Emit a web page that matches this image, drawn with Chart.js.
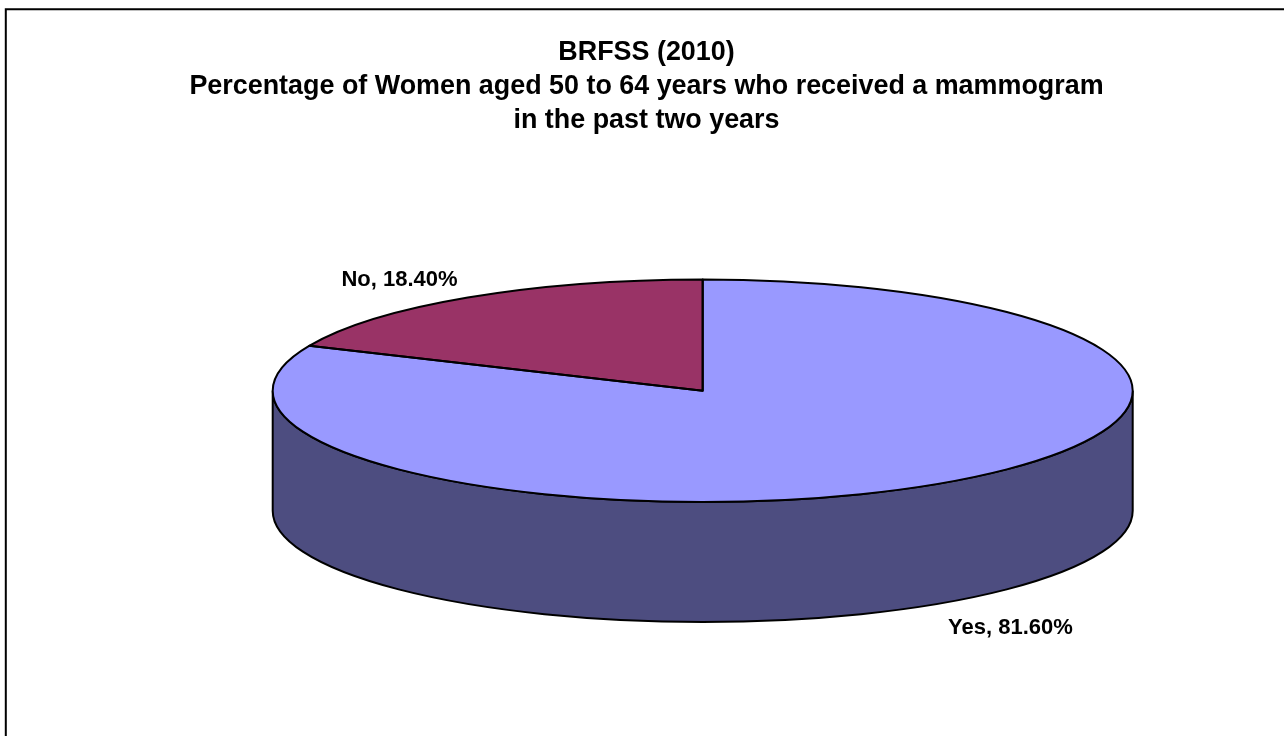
<!DOCTYPE html>
<html><head><meta charset="utf-8">
<style>html,body{margin:0;padding:0;background:#fff}canvas{display:block}</style>
<script src="https://cdn.jsdelivr.net/npm/chart.js@4"></script>
</head><body>
<div style="width:1284px;height:736px;position:relative"><canvas id="c" width="1284" height="736"></canvas></div>
<script>
const categories = ["Yes", "No"];
const values = [81.6, 18.4];
const dataLabels = ["Yes, 81.60%", "No, 18.40%"];
const sliceColors = ["#9999FF", "#993366"];
const wallColor = "#4D4D80";
const titleLines = ["BRFSS (2010)", "Percentage of Women aged 50 to 64 years who received a mammogram", "in the past two years"];

const FONT = '"Liberation Sans", Arial, sans-serif';
const SQUASH = 111.3 / 430;
const DEPTH = 120;
const SHIFT_X = 56.2;
const labelPos = [[1010.5, 627.5], [399.5, 280]];
const LINE = 2;

const pie3d = {
  id: 'pie3d',
  beforeDatasetsDraw(chart) {
    const ctx = chart.ctx, arcs = chart.getDatasetMeta(0).data;
    const {x, y: cy, outerRadius: r} = arcs[0];
    const cx = x + SHIFT_X;
    const ellipse = (oy, a0, a1, ccw) => {
      ctx.save(); ctx.translate(cx, cy + oy); ctx.scale(1, SQUASH);
      ctx.arc(0, 0, r, a0, a1, ccw); ctx.restore();
    };
    ctx.save();
    ctx.beginPath();
    ellipse(0, 0, Math.PI, false);
    ellipse(DEPTH, Math.PI, 0, true);
    ctx.closePath();
    ctx.fillStyle = wallColor; ctx.fill();
    ctx.lineWidth = LINE; ctx.strokeStyle = '#000'; ctx.stroke();
    ctx.restore();
    // squash the library's own arcs into the ellipse
    ctx.save();
    ctx.translate(cx, cy); ctx.scale(1, SQUASH); ctx.translate(-x, -cy);
  },
  afterDatasetsDraw(chart) {
    const ctx = chart.ctx, arcs = chart.getDatasetMeta(0).data;
    ctx.restore();
    arcs.forEach(a => {
      ctx.save();
      ctx.beginPath();
      ctx.translate(a.x + SHIFT_X, a.y); ctx.scale(1, SQUASH);
      ctx.moveTo(0, 0);
      ctx.arc(0, 0, a.outerRadius, a.startAngle, a.endAngle);
      ctx.closePath();
      ctx.setTransform(1, 0, 0, 1, 0, 0);
      ctx.lineWidth = LINE; ctx.strokeStyle = '#000'; ctx.lineJoin = 'round'; ctx.stroke();
      ctx.restore();
    });
    ctx.save();
    ctx.font = 'bold 22px ' + FONT;
    ctx.fillStyle = '#000'; ctx.textAlign = 'center'; ctx.textBaseline = 'middle';
    dataLabels.forEach((t, i) => ctx.fillText(t, labelPos[i][0], labelPos[i][1]));
    ctx.restore();
    // outer frame: left and top edges only
    ctx.save();
    ctx.strokeStyle = '#000'; ctx.lineWidth = 2;
    ctx.beginPath();
    ctx.moveTo(5.8, 736); ctx.lineTo(5.8, 9.2); ctx.lineTo(1284, 9.2);
    ctx.stroke();
    ctx.restore();
  }
};

new Chart(document.getElementById('c'), {
  type: 'pie',
  data: { labels: categories, datasets: [{
    data: values, backgroundColor: sliceColors, borderWidth: 0, radius: 430, clip: false
  }]},
  options: {
    responsive: false, animation: false, events: [],
    layout: { padding: { left: 9, right: 0, top: 0, bottom: 92.6 } },
    plugins: {
      legend: { display: false }, tooltip: { enabled: false },
      title: { display: true, text: titleLines, color: '#000', padding: { top: 36, bottom: 0 },
        font: { family: FONT, size: 26.9, weight: 'bold', lineHeight: 1.264 } }
    }
  },
  plugins: [pie3d]
});
</script>
</body></html>
